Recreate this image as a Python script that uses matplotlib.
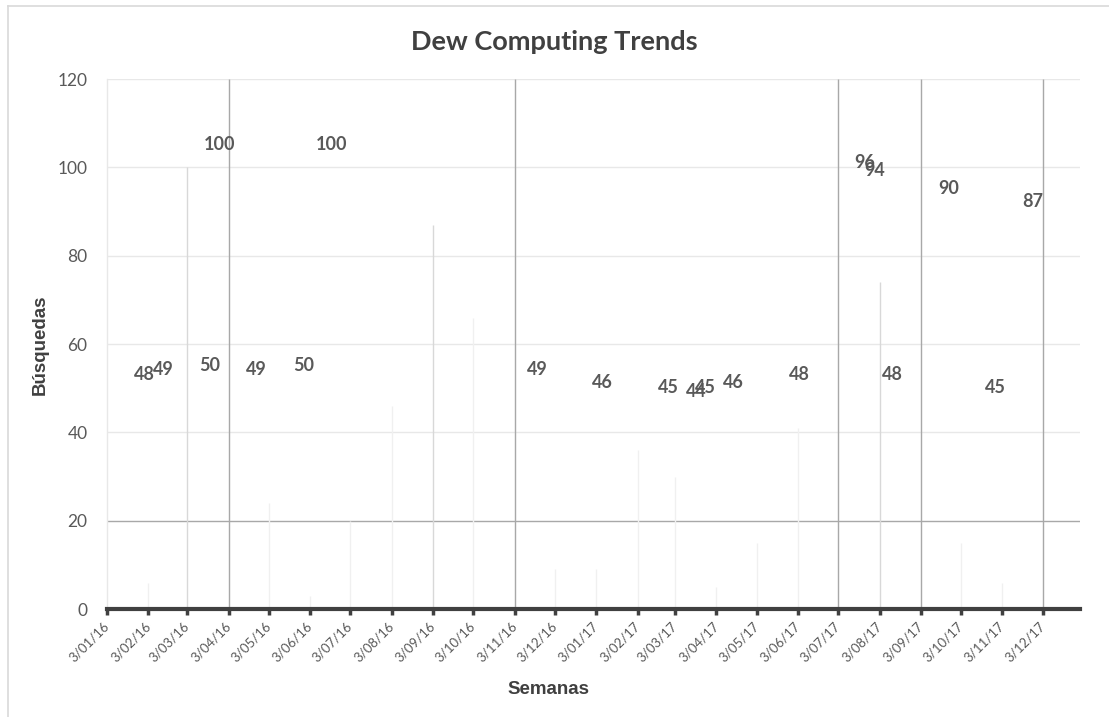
import numpy as np
import pandas as pd
import matplotlib
matplotlib.use("Agg")
import matplotlib.pyplot as plt
import matplotlib.dates as mdates
from matplotlib.lines import Line2D

# Labelled weekly points (Google Trends style, weeks start on Sunday)
point_dates = ["2016-01-31", "2016-02-14", "2016-03-20", "2016-03-27", "2016-04-24",
               "2016-05-29", "2016-06-19", "2016-11-20", "2017-01-08", "2017-02-26",
               "2017-03-19", "2017-03-26", "2017-04-16", "2017-06-04", "2017-07-23",
               "2017-07-30", "2017-08-13", "2017-09-24", "2017-10-29", "2017-11-26"]
point_values = [48, 49, 50, 100, 49, 50, 100, 49, 46, 45,
                44, 45, 46, 48, 96, 94, 48, 90, 45, 87]

# Monthly ticks (3rd of each month) and the faint vertical strokes drawn at them
tick_dates = pd.date_range("2016-01-01", "2017-12-01", freq="MS") + pd.Timedelta(days=2)
stroke_heights = [0, 6, 100, 120, 24, 3, 20, 46, 87, 66, 120, 9,
                  9, 36, 30, 5, 15, 41, 120, 74, 120, 15, 6, 120]

x_start = "2016-01-03"
x_end = "2017-12-31"

TXT = "#595959"
FONT = ["Lato", "DejaVu Sans"]
plt.rcParams["font.family"] = FONT


def stroke_color(h):
    if h >= 120:
        return "#a8a8a8"
    if h >= 70:
        return "#d8d8d8"
    return "#f0f0f0"


def main():
    fig = plt.figure(figsize=(11.09, 7.17), dpi=100)
    ax = fig.add_axes([107 / 1109, 1 - 609 / 717, (1080 - 107) / 1109, (609 - 79) / 717])

    ax.set_ylim(0, 120)
    ax.set_xlim(pd.Timestamp(x_start), pd.Timestamp(x_end))

    # horizontal gridlines
    for yv in [40, 60, 80, 100, 120]:
        ax.axhline(yv, color="#e8e8e8", lw=1, zorder=0)
    ax.axhline(20, color="#a8a8a8", lw=1, zorder=1)

    # vertical strokes at monthly ticks
    xs = mdates.date2num(tick_dates)
    ax.vlines(xs, 0, stroke_heights, colors=[stroke_color(h) for h in stroke_heights],
              lw=1, zorder=1)

    # invisible series + data labels
    pd_dates = pd.to_datetime(point_dates)
    ax.plot(pd_dates, point_values, lw=0, color="white")
    for d, v in zip(pd_dates, point_values):
        ax.annotate(str(v), (d, v), xytext=(0, 16.5), textcoords="offset points",
                    ha="center", va="center", fontsize=13, fontweight="bold",
                    color=TXT, zorder=5)

    # axes styling
    for s in ["top", "right"]:
        ax.spines[s].set_visible(False)
    ax.spines["left"].set_color("#e8e8e8")
    ax.spines["left"].set_linewidth(1)
    ax.spines["bottom"].set_color("#404040")
    ax.spines["bottom"].set_linewidth(3)
    ax.spines["bottom"].set_zorder(4)

    ax.set_yticks(np.arange(0, 121, 20))
    ax.tick_params(axis="y", length=0, pad=14, labelsize=12.5, labelcolor=TXT)

    ax.set_xticks(xs)
    ax.set_xticklabels([d.strftime("%-d/%m/%y") for d in tick_dates])
    ax.tick_params(axis="x", length=4, width=2.5, color="#404040", direction="out",
                   pad=7, labelsize=9.5, labelcolor=TXT)
    for lbl in ax.get_xticklabels():
        lbl.set_rotation(45)
        lbl.set_ha("right")
        lbl.set_va("center")
        lbl.set_rotation_mode("anchor")

    fig.text(0.5, 1 - 42 / 717, "Dew Computing Trends", ha="center", va="center",
             fontsize=19.5, fontweight="bold", color="#404040")
    axis_font = ["Liberation Sans", "DejaVu Sans"]
    fig.text(40 / 1109, 1 - 345 / 717, "Búsquedas", ha="center", va="center",
             rotation=90, fontsize=13.5, fontweight="bold", color="#404040",
             family=axis_font)
    fig.text(548 / 1109, 1 - 690 / 717, "Semanas", ha="center", va="center",
             fontsize=13.5, fontweight="bold", color="#404040", family=axis_font)

    # chart area border (partially cropped)
    fig.add_artist(Line2D([8 / 1109, 8 / 1109], [0, 1 - 6 / 717], color="#d9d9d9", lw=1.2))
    fig.add_artist(Line2D([8 / 1109, 1], [1 - 6 / 717, 1 - 6 / 717], color="#d9d9d9", lw=1.2))

    fig.savefig("out.png", dpi=100)
    plt.close(fig)


if __name__ == "__main__":
    main()
